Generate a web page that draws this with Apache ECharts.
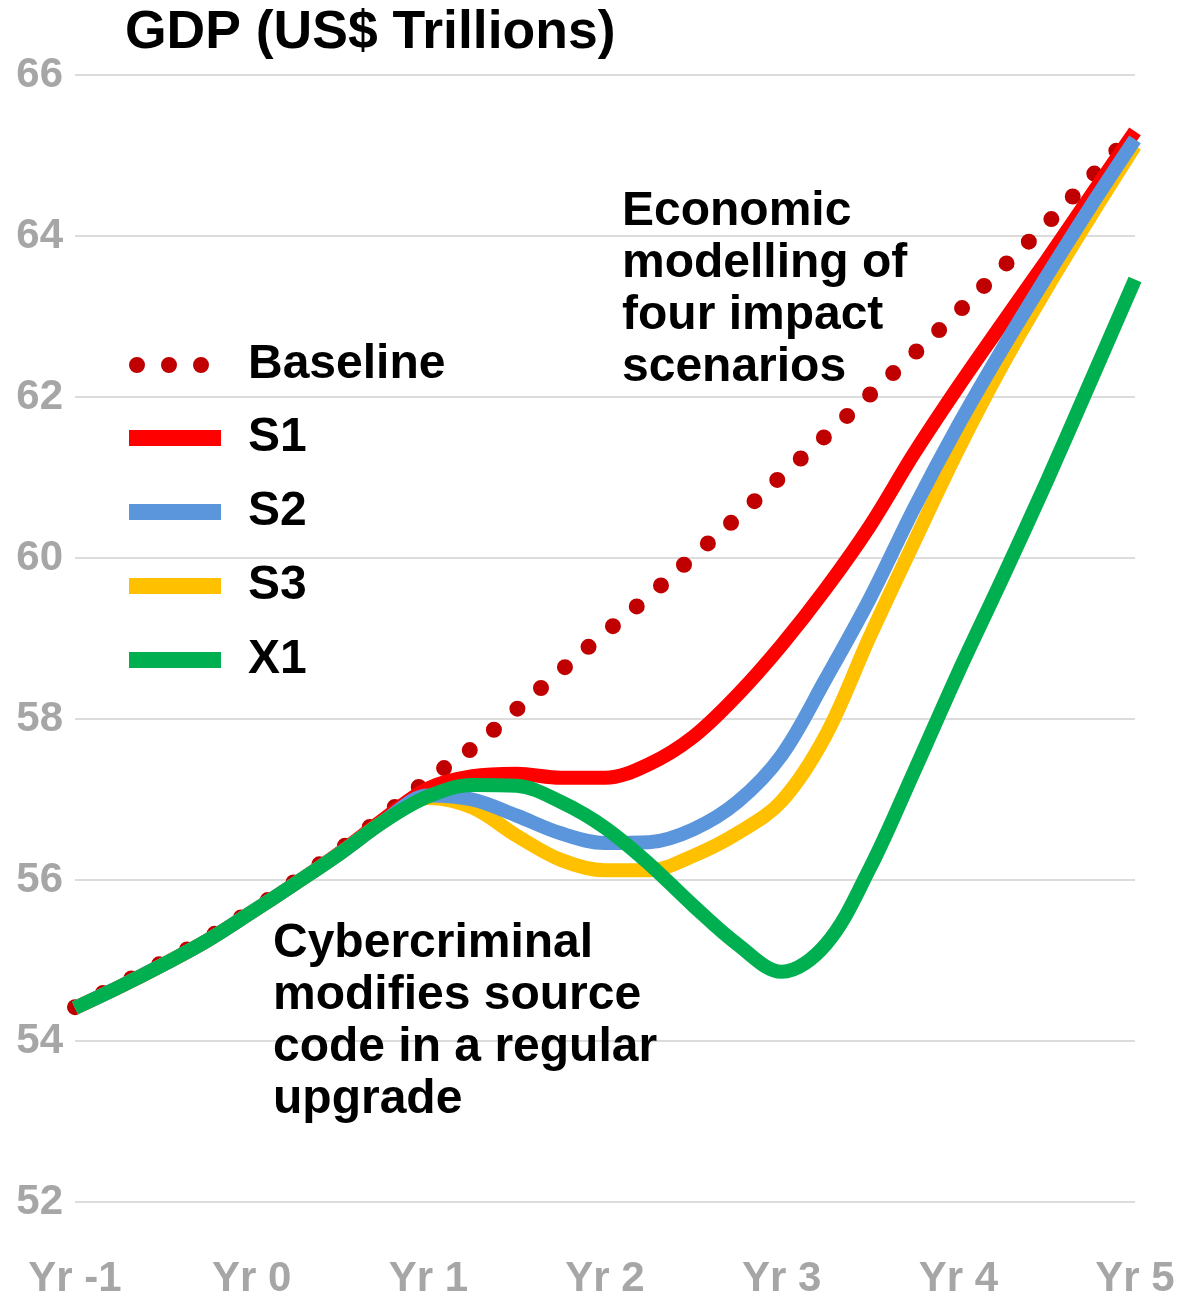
<!DOCTYPE html>
<html>
<head>
<meta charset="utf-8">
<title>GDP (US$ Trillions)</title>
<script src="https://cdn.jsdelivr.net/npm/echarts@6/dist/echarts.min.js"></script>
<style>
  html, body { margin: 0; padding: 0; background: #ffffff; }
  #chart { width: 1180px; height: 1300px; }
</style>
</head>
<body>
<div id="chart"></div>
<script>
// Time axis, in years (quarterly samples)
const years = [-1, -0.75, -0.5, -0.25, 0, 0.25, 0.5, 0.75, 1, 1.25, 1.5, 1.75, 2,
               2.25, 2.5, 2.75, 3, 3.25, 3.5, 3.75, 4, 4.25, 4.5, 4.75, 5];
const yearTicks = [-1, 0, 1, 2, 3, 4, 5];
const yearLabels = ['Yr -1', 'Yr 0', 'Yr 1', 'Yr 2', 'Yr 3', 'Yr 4', 'Yr 5'];

// GDP, US$ trillions
const baseline = [54.42, 54.70, 54.98, 55.28, 55.62, 55.99, 56.38, 56.80, 57.25, 57.64, 58.12, 58.60, 59.07,
                  59.53, 60.02, 60.51, 61.02, 61.52, 62.03, 62.54, 63.06, 63.61, 64.15, 64.73, 65.30];
const s1 = [54.41, 54.67, 54.95, 55.25, 55.60, 55.96, 56.34, 56.76, 57.14, 57.29, 57.32, 57.27, 57.27,
            57.44, 57.78, 58.30, 58.92, 59.62, 60.40, 61.30, 62.13, 62.92, 63.70, 64.50, 65.30];
const s2 = [54.41, 54.67, 54.95, 55.25, 55.60, 55.96, 56.33, 56.73, 57.05, 57.00, 56.80, 56.58, 56.46,
            56.47, 56.63, 56.97, 57.55, 58.50, 59.50, 60.62, 61.65, 62.60, 63.50, 64.37, 65.20];
const s3 = [54.41, 54.67, 54.95, 55.25, 55.60, 55.96, 56.33, 56.73, 57.02, 56.90, 56.55, 56.25, 56.12,
            56.12, 56.30, 56.58, 56.98, 57.80, 59.03, 60.20, 61.35, 62.40, 63.35, 64.25, 65.12];
const x1 = [54.41, 54.67, 54.95, 55.25, 55.60, 55.96, 56.33, 56.73, 57.04, 57.18, 57.17, 56.97, 56.65,
            56.20, 55.68, 55.20, 54.86, 55.20, 56.15, 57.35, 58.58, 59.75, 60.95, 62.20, 63.46];

const yTicks = { min: 52, max: 66, step: 2 };

const COLORS = {
  baseline: '#c00000',
  s1: '#ff0000',
  s2: '#5b96dc',
  s3: '#ffc000',
  x1: '#00b050'
};

const FONT = 'Liberation Sans, Arial, Helvetica, sans-serif';

function pairs(values) {
  return years.map((x, i) => [x, values[i]]);
}

function solidSeries(name, values, color, z) {
  return {
    name: name,
    type: 'line',
    data: pairs(values),
    smooth: 0.35,
    symbol: 'none',
    z: z,
    color: color,
    lineStyle: { color: color, width: 14, cap: 'butt', join: 'round' },
    emphasis: { disabled: true }
  };
}

// three dots used as the legend mark of the dotted baseline
const dotsIcon = 'path://M0,8a8,8 0 1,0 16,0a8,8 0 1,0 -16,0z' +
                 'M32,8a8,8 0 1,0 16,0a8,8 0 1,0 -16,0z' +
                 'M64,8a8,8 0 1,0 16,0a8,8 0 1,0 -16,0z';

const chart = echarts.init(document.getElementById('chart'), null, { renderer: 'canvas' });

const legendText = {
  fontFamily: FONT,
  fontWeight: 'bold',
  fontSize: 48,
  color: '#000000',
  lineHeight: 50
};

chart.setOption({
  animation: false,
  backgroundColor: '#ffffff',
  title: {
    text: 'GDP (US$ Trillions)',
    left: 125,
    top: 3,
    padding: 0,
    textStyle: {
      fontFamily: FONT,
      fontWeight: 'bold',
      fontSize: 53.5,
      lineHeight: 60,
      color: '#000000'
    }
  },
  grid: { left: 75, right: 45, top: 75, bottom: 94, containLabel: false },
  xAxis: {
    type: 'value',
    min: yearTicks[0],
    max: yearTicks[yearTicks.length - 1],
    interval: 1,
    axisLine: { show: false },
    axisTick: { show: false },
    splitLine: { show: false },
    axisLabel: {
      margin: 56,
      fontFamily: FONT,
      fontWeight: 'bold',
      fontSize: 42,
      lineHeight: 42,
      color: '#a6a6a6',
      formatter: v => yearLabels[yearTicks.indexOf(v)] || ''
    }
  },
  yAxis: {
    type: 'value',
    min: yTicks.min,
    max: yTicks.max,
    interval: yTicks.step,
    axisLine: { show: false },
    axisTick: { show: false },
    splitLine: { show: true, lineStyle: { color: '#dcdcdc', width: 2 } },
    axisLabel: {
      margin: 12,
      fontFamily: FONT,
      fontWeight: 'bold',
      fontSize: 42,
      color: '#a6a6a6',
      padding: [4, 0, 0, 0]
    }
  },
  legend: [
    {
      orient: 'vertical',
      left: 129,
      top: 336,
      padding: 0,
      itemWidth: 80,
      itemHeight: 16,
      selectedMode: false,
      data: [{ name: 'Baseline', icon: dotsIcon, itemStyle: { color: COLORS.baseline } }],
      textStyle: Object.assign({}, legendText, { padding: [8, 0, 0, 34] })
    },
    {
      orient: 'vertical',
      left: 129,
      top: 408,
      padding: 0,
      itemWidth: 92,
      itemHeight: 16,
      itemGap: 14,
      selectedMode: false,
      data: [
        { name: 'S1', icon: 'rect' },
        { name: 'S2', icon: 'rect' },
        { name: 'S3', icon: 'rect' },
        { name: 'X1', icon: 'rect' }
      ],
      textStyle: Object.assign({}, legendText, { padding: [10, 0, 0, 22] })
    }
  ],
  graphic: [
    {
      type: 'text',
      left: 622,
      top: 186,
      z: 100,
      silent: true,
      style: {
        text: 'Economic\nmodelling of\nfour impact\nscenarios',
        font: 'bold 48px ' + FONT,
        lineHeight: 52,
        fill: '#000000'
      }
    },
    {
      type: 'text',
      left: 273,
      top: 918,
      z: 100,
      silent: true,
      style: {
        text: 'Cybercriminal\nmodifies source\ncode in a regular\nupgrade',
        font: 'bold 48px ' + FONT,
        lineHeight: 52,
        fill: '#000000'
      }
    }
  ],
  series: [
    {
      name: 'Baseline',
      type: 'line',
      data: pairs(baseline),
      smooth: 0.35,
      symbol: 'none',
      z: 1,
      color: COLORS.baseline,
      lineStyle: { color: COLORS.baseline, width: 16, type: [0, 31.5], cap: 'round' },
      emphasis: { disabled: true }
    },
    solidSeries('S1', s1, COLORS.s1, 2),
    solidSeries('S2', s2, COLORS.s2, 4),
    solidSeries('S3', s3, COLORS.s3, 3),
    solidSeries('X1', x1, COLORS.x1, 5)
  ]
});
</script>
</body>
</html>
